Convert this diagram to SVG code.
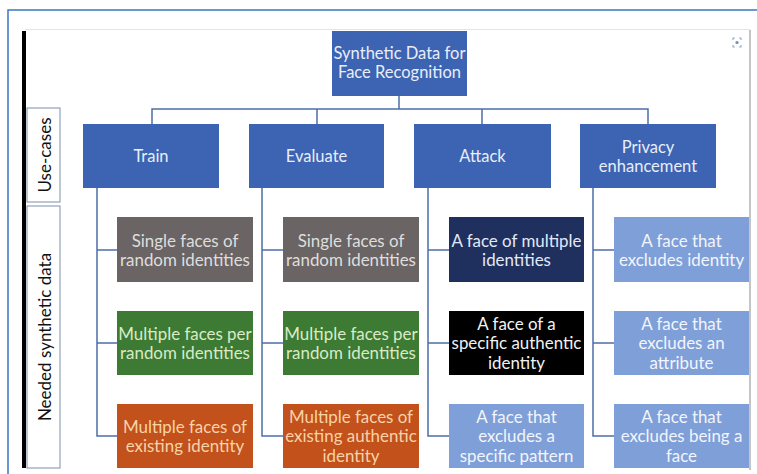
<svg xmlns="http://www.w3.org/2000/svg" width="757" height="474" viewBox="0 0 757 474">
<style>
text{font-family:Lato,"Open Sans","Liberation Sans",sans-serif;text-anchor:middle;dominant-baseline:central}
.uc{fill:#3d63b3}
.t{font-size:16.9px}
.tu{font-size:16.5px;fill:#e9eef8}
.lbl{font-size:17px;fill:#111}
.con{fill:none;stroke:#4d6ea8;stroke-width:1.5}
</style>
<rect width="757" height="474" fill="#fff"/>
<path d="M8 474V10H757" fill="none" stroke="#3a78c2" stroke-width="1.5"/>
<path d="M25 29.5H750V470" fill="none" stroke="#e4e4e4" stroke-width="1"/>
<path d="M750 30V470" stroke="#a8a8a8" stroke-width="1.2"/>
<rect x="22" y="31" width="4" height="437" fill="#000"/>
<g id="icon" fill="none" stroke="#9ab0c8" stroke-width="1.2">
<path d="M733 40v-2h2M739 38h2v2M741 45v2h-2M735 47h-2v-2"/>
<circle cx="737" cy="42.5" r="1.6" fill="#6f8fb8" stroke="none"/>
</g>
<g id="label-usecases">
<rect x="27" y="108" width="33" height="94" fill="#fff" stroke="#7d8fa8" stroke-width="1"/>
<text class="lbl" transform="translate(44 155) rotate(-90)">Use-cases</text>
</g>
<g id="label-needed">
<rect x="27" y="206" width="33" height="262" fill="#fff" stroke="#7d8fa8" stroke-width="1"/>
<text class="lbl" transform="translate(44 337) rotate(-90)">Needed synthetic data</text>
</g>
<g id="connectors" class="con">
<path d="M399 96V109M152 124V109H648V124M317 109V124M482 109V124"/>
<path d="M97 188V436H117M97 250H117M97 343H117"/>
<path d="M262 188V436H283M262 250H283M262 343H283"/>
<path d="M428 188V436H449M428 250H449M428 343H449"/>
<path d="M593 188V436H614M593 250H614M593 343H614"/>
</g>
<g id="root">
<rect class="uc" x="332" y="31" width="135" height="65"/>
<text class="tu" x="399.5" y="53">Synthetic Data for</text>
<text class="tu" x="399.5" y="72">Face Recognition</text>
</g>
<g id="train"><rect class="uc" x="83" y="124" width="136" height="64"/><text class="tu" x="151" y="156">Train</text></g>
<g id="evaluate"><rect class="uc" x="249" y="124" width="135" height="64"/><text class="tu" x="316.5" y="156">Evaluate</text></g>
<g id="attack"><rect class="uc" x="414" y="124" width="137" height="64"/><text class="tu" x="482.5" y="156">Attack</text></g>
<g id="privacy"><rect class="uc" x="580" y="124" width="136" height="64"/><text class="tu" x="648" y="147">Privacy</text><text class="tu" x="648" y="166">enhancement</text></g>

<g id="train-1"><rect x="117" y="217" width="136" height="65" fill="#6a6564"/><text class="t" fill="#dedede" x="185" y="240">Single faces of</text><text class="t" fill="#dedede" x="185" y="259">random identities</text></g>
<g id="train-2"><rect x="117" y="311" width="136" height="64" fill="#3d7a34"/><text class="t" fill="#d9ebc6" x="185" y="333">Multiple faces per</text><text class="t" fill="#d9ebc6" x="185" y="352">random identities</text></g>
<g id="train-3"><rect x="117" y="404" width="136" height="64" fill="#c2511c"/><text class="t" fill="#f8d3a8" x="185" y="426">Multiple faces of</text><text class="t" fill="#f8d3a8" x="185" y="445">existing identity</text></g>

<g id="eval-1"><rect x="283" y="217" width="136" height="65" fill="#6a6564"/><text class="t" fill="#dedede" x="351" y="240">Single faces of</text><text class="t" fill="#dedede" x="351" y="259">random identities</text></g>
<g id="eval-2"><rect x="283" y="311" width="136" height="64" fill="#3d7a34"/><text class="t" fill="#d9ebc6" x="351" y="333">Multiple faces per</text><text class="t" fill="#d9ebc6" x="351" y="352">random identities</text></g>
<g id="eval-3"><rect x="283" y="404" width="136" height="64" fill="#c2511c"/><text class="t" fill="#f8d3a8" x="351" y="416">Multiple faces of</text><text class="t" fill="#f8d3a8" x="351" y="435.5">existing authentic</text><text class="t" fill="#f8d3a8" x="351" y="455">identity</text></g>

<g id="attack-1"><rect x="449" y="217" width="135" height="65" fill="#1f2f5e"/><text class="t" fill="#e3e9f6" x="516.5" y="240">A face of multiple</text><text class="t" fill="#e3e9f6" x="516.5" y="259">identities</text></g>
<g id="attack-2"><rect x="449" y="311" width="135" height="64" fill="#000"/><text class="t" fill="#f2f2f2" x="516.5" y="323">A face of a</text><text class="t" fill="#f2f2f2" x="516.5" y="342.5">specific authentic</text><text class="t" fill="#f2f2f2" x="516.5" y="362">identity</text></g>
<g id="attack-3"><rect x="449" y="404" width="135" height="64" fill="#7f9fd8"/><text class="t" fill="#f2f5fb" x="516.5" y="416">A face that</text><text class="t" fill="#f2f5fb" x="516.5" y="435.5">excludes a</text><text class="t" fill="#f2f5fb" x="516.5" y="455">specific pattern</text></g>

<g id="priv-1"><rect x="614" y="217" width="135" height="65" fill="#7f9fd8"/><text class="t" fill="#f2f5fb" x="681.5" y="240">A face that</text><text class="t" fill="#f2f5fb" x="681.5" y="259">excludes identity</text></g>
<g id="priv-2"><rect x="614" y="311" width="135" height="64" fill="#7f9fd8"/><text class="t" fill="#f2f5fb" x="681.5" y="323">A face that</text><text class="t" fill="#f2f5fb" x="681.5" y="342.5">excludes an</text><text class="t" fill="#f2f5fb" x="681.5" y="362">attribute</text></g>
<g id="priv-3"><rect x="614" y="404" width="135" height="64" fill="#7f9fd8"/><text class="t" fill="#f2f5fb" x="681.5" y="416">A face that</text><text class="t" fill="#f2f5fb" x="681.5" y="435.5">excludes being a</text><text class="t" fill="#f2f5fb" x="681.5" y="455">face</text></g>
</svg>
